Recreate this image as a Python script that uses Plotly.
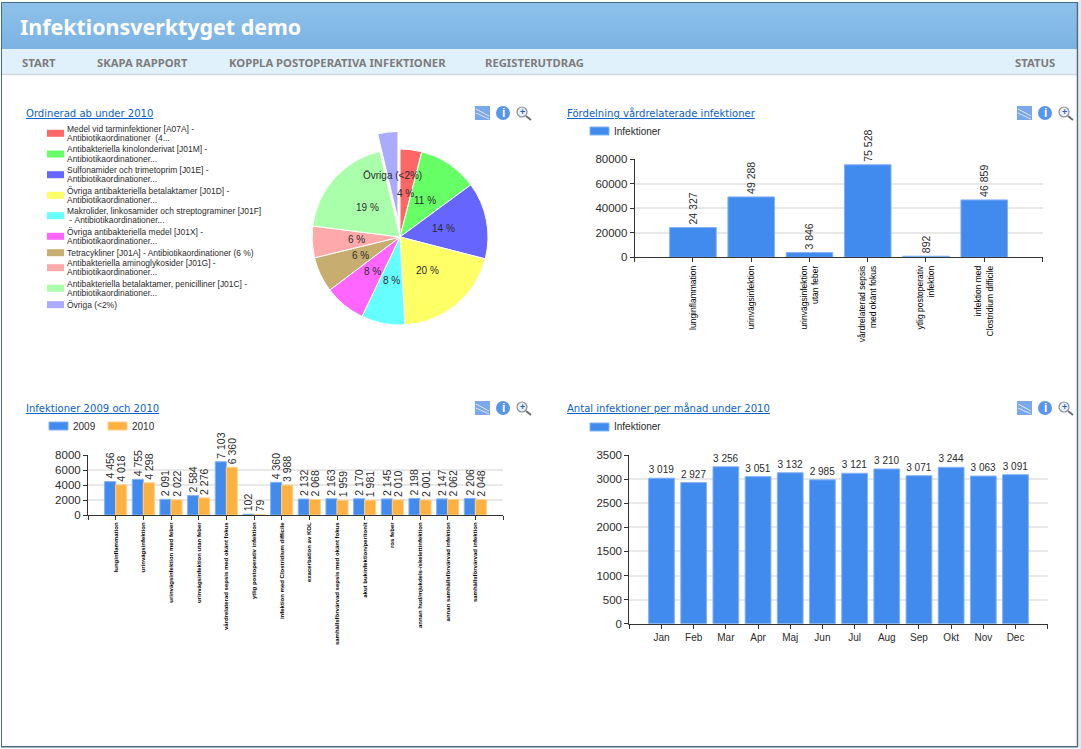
import math
import plotly.graph_objects as go

W, H = 1081, 749
SANS = "Liberation Sans"

# pie: Ordinerad ab under 2010
pie_values = [4.0, 10.9, 14.1, 20.1, 8.0, 7.6, 6.5, 5.8, 19.3, 3.7]
pie_labels = ["4 %", "11 %", "14 %", "20 %", "8 %", "8 %", "6 %", "6 %", "19 %", "Övriga (<2%)"]
pie_colors = ["#FF6666", "#66FF66", "#6666FF", "#FFFF66", "#66FFFF",
              "#FF66FF", "#C8AD70", "#FFAAAA", "#AAFFAA", "#AAAAFF"]
pie_pull = [0, 0, 0, 0, 0, 0, 0, 0, 0, 0.2]
pie_legend = [
    ["Medel vid tarminfektioner [A07A] -", "Antibiotikaordinationer  (4..."],
    ["Antibakteriella kinolonderivat [J01M] -", "Antibiotikaordinationer..."],
    ["Sulfonamider och trimetoprim [J01E] -", "Antibiotikaordinationer..."],
    ["Övriga antibakteriella betalaktamer [J01D] -", "Antibiotikaordinationer..."],
    ["Makrolider, linkosamider och streptograminer [J01F]", " - Antibiotikaordinationer..."],
    ["Övriga antibakteriella medel [J01X] -", "Antibiotikaordinationer..."],
    ["Tetracykliner [J01A] - Antibiotikaordinationer (6 %)"],
    ["Antibakteriella aminoglykosider [J01G] -", "Antibiotikaordinationer..."],
    ["Antibakteriella betalaktamer, penicilliner [J01C] -", "Antibiotikaordinationer..."],
    ["Övriga (<2%)"],
]

# bars: Fördelning vårdrelaterade infektioner
dist_labels = ["lunginflammation", "urinvägsinfektion", "urinvägsinfektion<br>utan feber",
               "vårdrelaterad sepsis<br>med okänt fokus", "ytlig postoperativ<br>infektion",
               "infektion med<br>Clostridium difficile"]
dist_values = [24327, 49288, 3846, 75528, 892, 46859]

# bars: Infektioner 2009 och 2010
comp_labels = ["lunginflammation", "urinvägsinfektion", "urinvägsinfektion med feber",
               "urinvägsinfektion utan feber", "vårdrelaterad sepsis med okänt fokus",
               "ytlig postoperativ infektion", "infektion med Clostridium difficile",
               "exacerbation av KOL", "samhällsförvärvad sepsis med okänt fokus",
               "akut bukinfektion/peritonit", "ros feber",
               "annan hud/mjukdels-/skelettinfektion", "annan samhällsförvärvad infektion",
               "samhällsförvärvad infektion"]
comp_2009 = [4456, 4755, 2091, 2584, 7103, 102, 4360, 2132, 2163, 2170, 2145, 2198, 2147, 2206]
comp_2010 = [4018, 4298, 2022, 2276, 6360, 79, 3988, 2068, 1959, 1981, 2010, 2001, 2062, 2048]

# bars: Antal infektioner per månad under 2010
months = ["Jan", "Feb", "Mar", "Apr", "Maj", "Jun", "Jul", "Aug", "Sep", "Okt", "Nov", "Dec"]
month_values = [3019, 2927, 3256, 3051, 3132, 2985, 3121, 3210, 3071, 3244, 3063, 3091]

nav_items = [("START", 22), ("SKAPA RAPPORT", 97), ("KOPPLA POSTOPERATIVA INFEKTIONER", 229),
             ("REGISTERUTDRAG", 485), ("STATUS", 1015)]

BLUE = "#418AEE"
BLUE_EDGE = "#85B2F4"
ORANGE = "#FDB141"
ORANGE_EDGE = "#FFD08A"
TEXT = "#2B2B2B"


def px(x):
    return x / W


def py(y):
    return 1 - y / H


def fmt(v):
    return f"{v:,}".replace(",", " ")


fig = go.Figure()
shapes = []
notes = []


def rect(x0, y0, x1, y1, fill, line=None, width=1, kind="rect"):
    shapes.append(dict(type=kind, xref="paper", yref="paper", x0=px(x0), x1=px(x1),
                       y0=py(y0), y1=py(y1), fillcolor=fill, layer="below",
                       line=dict(color=line or fill, width=width if line else 0)))


def seg(x0, y0, x1, y1, color, width=1):
    shapes.append(dict(type="line", xref="paper", yref="paper", x0=px(x0), x1=px(x1),
                       y0=py(y0), y1=py(y1), line=dict(color=color, width=width)))


def note(x, y, text, size=10, color=TEXT, family=SANS, anchor="left"):
    notes.append(dict(x=px(x), y=py(y), xref="paper", yref="paper", text=text, showarrow=False,
                      xanchor=anchor, yanchor="middle", align="left",
                      font=dict(size=size, color=color, family=family),
                      borderpad=0, borderwidth=0))


def icons(x, y):
    # the small toolbar next to every chart title
    rect(x - 8, y - 7, x + 7, y + 7, "#7BA7EC")
    seg(x - 7, y - 4, x + 6, y + 3, "#DCE8FA")
    seg(x - 7, y, x + 6, y + 6, "#DCE8FA")
    rect(x + 13, y - 7, x + 27, y + 7, "#5A95EC", kind="circle")
    note(x + 20, y, "<b>i</b>", size=12, color="white", anchor="center")
    rect(x + 34, y - 6, x + 44, y + 4, "#E8F0FA", "#8A8F96", 1.2, kind="circle")
    seg(x + 43, y + 3, x + 48, y + 7, "#6B6F75", 2)
    note(x + 39, y - 1, "<b>+</b>", size=9, color="#2F5FB5", anchor="center")


def title(x, y, text):
    note(x, y, f"<u>{text}</u>", size=10.05, color="#0B62C9", family="DejaVu Sans")


def swatch(x, y, color, edge, label):
    rect(x, y - 4, x + 19, y + 4, color, edge, 1)
    note(x + 24, y, label, size=10)


# page chrome
top, bottom = (0x8D, 0xC1, 0xEA), (0x7C, 0xB3, 0xE3)
for i in range(12):
    t = i / 11
    c = tuple(round(a + (b - a) * t) for a, b in zip(top, bottom))
    rect(2, 3 + i * 46 / 12, 1077, 49, "rgb(%d,%d,%d)" % c)
rect(2, 49, 1077, 74, "#E0F1FB")
rect(1079, 0, 1081, 749, "#E8E8E8")
seg(2, 74.5, 1077, 74.5, "#D3D8DB", 1.5)
seg(1.5, 2, 1.5, 747, "#4A6A8C")
seg(1, 2.5, 1078, 2.5, "#4A6A8C")
seg(1077.5, 2, 1077.5, 747, "#4A6A8C", 1.5)
seg(1, 746.7, 1078, 746.7, "#4A6A8C", 1.5)

note(20, 27, "<b>Infektionsverktyget demo</b>", size=21.4, color="white", family="Noto Sans")
for item, x in nav_items:
    note(x, 62.5, f"<b>{item}</b>", size=11.25, color="#7C7C7C", family="Noto Sans")

title(26, 113, "Ordinerad ab under 2010")
title(567, 113, "Fördelning vårdrelaterade infektioner")
title(26, 408, "Infektioner 2009 och 2010")
title(567, 408, "Antal infektioner per månad under 2010")
for ix, iy in [(483, 113), (1025, 113), (483, 408), (1025, 408)]:
    icons(ix, iy)

# pie
PIE_X, PIE_Y, PIE_R = 400, 237, 88
half = PIE_R * (1 + max(pie_pull))
fig.add_trace(go.Pie(values=pie_values, marker=dict(colors=pie_colors, line=dict(color="white", width=1)),
                     sort=False, direction="clockwise", rotation=0, pull=pie_pull,
                     textinfo="none", showlegend=False,
                     domain=dict(x=[px(PIE_X - half), px(PIE_X + half)],
                                 y=[py(PIE_Y + half), py(PIE_Y - half)])))
done = 0
total = sum(pie_values)
for val, lab, pull in zip(pie_values, pie_labels, pie_pull):
    mid = (done + val / 2) / total * 2 * math.pi
    done += val
    r = PIE_R * (0.5 + pull)
    note(PIE_X + r * math.sin(mid), PIE_Y - r * math.cos(mid), lab, size=10, anchor="center")

row_y = [133.3, 154, 174.7, 195.3, 215.7, 236.3, 252.7, 267.7, 288.3, 304.7]
for rows, color, y in zip(pie_legend, pie_colors, row_y):
    rect(47, y - 3.5, 64, y + 3.5, color)
    for k, line in enumerate(rows):
        note(67, y + (k - (len(rows) - 1) / 2) * 9.4, line.replace(" ", "&nbsp;") if line[0] == " " else line,
             size=8.45)

# chart 2
swatch(590, 131, BLUE, BLUE_EDGE, "Infektioner")
fig.add_trace(go.Bar(x=list(range(len(dist_values))), y=dist_values, xaxis="x", yaxis="y",
                     marker=dict(color=BLUE, line=dict(color=BLUE_EDGE, width=1)),
                     text=[fmt(v) for v in dist_values], textposition="outside", textangle=-90,
                     constraintext="none", cliponaxis=False,
                     textfont=dict(size=10.5, color=TEXT, family=SANS), showlegend=False))

# chart 3
swatch(49, 426, BLUE, BLUE_EDGE, "2009")
swatch(108, 426, ORANGE, ORANGE_EDGE, "2010")
for vals, col, edge in [(comp_2009, BLUE, BLUE_EDGE), (comp_2010, ORANGE, ORANGE_EDGE)]:
    fig.add_trace(go.Bar(x=list(range(len(vals))), y=vals, xaxis="x2", yaxis="y2",
                         marker=dict(color=col, line=dict(color=edge, width=1)),
                         text=[fmt(v) for v in vals], textposition="outside", textangle=-90,
                         constraintext="none", cliponaxis=False,
                         textfont=dict(size=10.5, color=TEXT, family=SANS), showlegend=False))

# chart 4
swatch(590, 427, BLUE, BLUE_EDGE, "Infektioner")
fig.add_trace(go.Bar(x=list(range(len(month_values))), y=month_values, xaxis="x3", yaxis="y3",
                     marker=dict(color=BLUE, line=dict(color=BLUE_EDGE, width=1)),
                     text=[fmt(v) for v in month_values], textposition="outside", textangle=0,
                     constraintext="none", cliponaxis=False,
                     textfont=dict(size=10, color=TEXT, family=SANS), showlegend=False))


def x_axis(x0, x1, labels, size, angle, anchor, weight="normal"):
    n = len(labels)
    return dict(domain=[px(x0), px(x1)], range=[-1, n], anchor=anchor, showgrid=False, zeroline=False,
                tickmode="array", tickvals=list(range(-1, n + 1)), ticktext=[""] + labels + [""],
                tickangle=angle,
                tickfont=dict(size=size, color="#000000" if angle else TEXT, family=SANS, weight=weight),
                ticks="outside", ticklen=4, tickcolor="#333333", showline=True,
                linecolor="#333333", linewidth=1)


def y_axis(y0, y1, top_val, step, anchor):
    return dict(domain=[py(y0), py(y1)], range=[0, top_val], anchor=anchor, dtick=step, tick0=0,
                tickformat="d", showgrid=True, gridcolor="#E8E8E8", gridwidth=2, zeroline=False,
                tickfont=dict(size=11.5, color=TEXT, family=SANS), ticks="outside", ticklen=4,
                tickcolor="#333333", showline=True, linecolor="#333333", linewidth=1)


fig.update_layout(
    width=W, height=H, margin=dict(l=0, r=0, t=0, b=0, autoexpand=False), autosize=False,
    paper_bgcolor="white", plot_bgcolor="white", showlegend=False,
    barmode="group", bargap=0.2, bargroupgap=0,
    shapes=shapes, annotations=notes,
    xaxis=x_axis(634.7, 1042.5, dist_labels, 8.5, -90, "y"),
    yaxis=y_axis(257.3, 159.3, 80000, 20000, "x"),
    xaxis2=x_axis(88, 503, comp_labels, 6, -90, "y2", weight="bold"),
    yaxis2=y_axis(515, 455, 8000, 2000, "x2"),
    xaxis3=x_axis(629.3, 1047.7, months, 10, 0, "y3"),
    yaxis3=y_axis(623.7, 455, 3500, 500, "x3"),
)

fig.write_html("out.html", config=dict(displayModeBar=False),
               post_script="document.body.style.margin='0';")
